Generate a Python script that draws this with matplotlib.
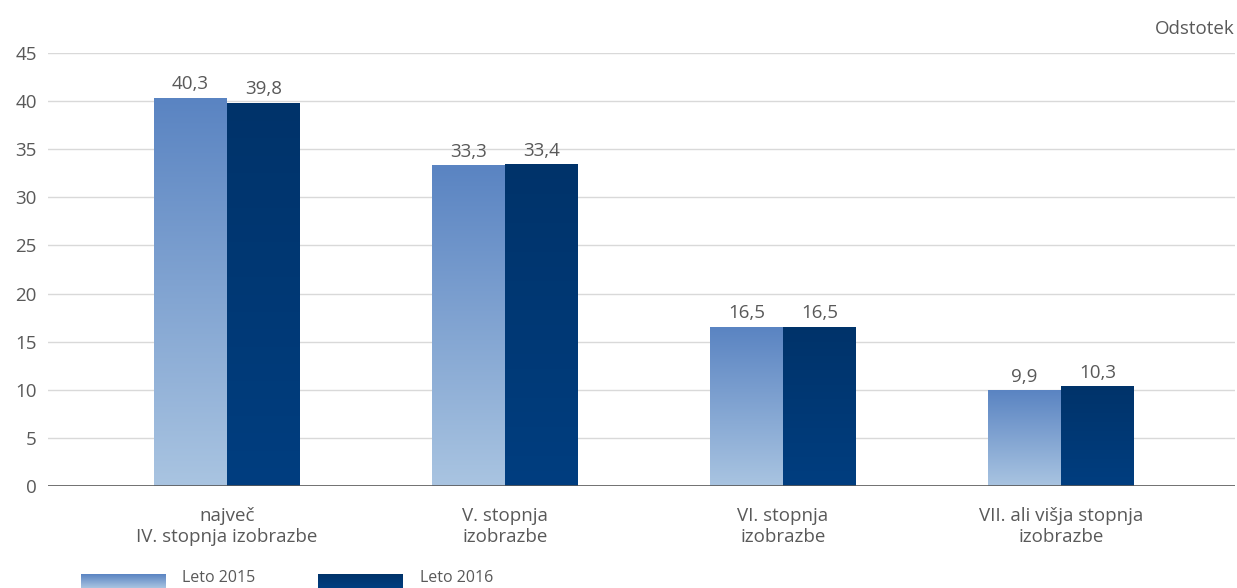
import matplotlib
matplotlib.use("Agg")

import numpy as np
import matplotlib.pyplot as plt
from matplotlib.colors import LinearSegmentedColormap

# -----------------------------
# Data
# -----------------------------
categories = ["največ\nIV. stopnja izobrazbe", "V. stopnja\nizobrazbe",
              "VI. stopnja\nizobrazbe", "VII. ali višja stopnja\nizobrazbe"]
leto_2015 = [40.3, 33.3, 16.5, 9.9]
leto_2016 = [39.8, 33.4, 16.5, 10.3]
series_names = ["Leto 2015", "Leto 2016"]

plt.rcParams["font.family"] = ["Open Sans", "DejaVu Sans"]
TXT = "#595959"
FS = 13.5

light_cmap = LinearSegmentedColormap.from_list("light", ["#a9c4e1", "#5a84c2"])
dark_cmap = LinearSegmentedColormap.from_list("dark", ["#003e80", "#00336a"])
grad = np.linspace(0, 1, 256).reshape(-1, 1)

fig = plt.figure(figsize=(12.37, 5.88), dpi=100)
ax = fig.add_axes([48 / 1237, 1 - 486 / 588, (1235 - 48) / 1237, 433 / 588])

x = np.arange(len(categories))
w = 0.2626

# gridlines
for yv in range(5, 50, 5):
    ax.axhline(yv, color="#d9d9d9", lw=1, zorder=0)
ax.axhline(0, color="#595959", lw=1.2, zorder=3)

# gradient bars
for vals, cmap, off in [(leto_2015, light_cmap, -w / 2), (leto_2016, dark_cmap, w / 2)]:
    for xi, v in zip(x, vals):
        x0 = xi + off - w / 2
        ax.imshow(grad, cmap=cmap, origin="lower", aspect="auto",
                  extent=(x0, x0 + w, 0, v), zorder=2, interpolation="bilinear")
        ax.text(xi + off, v + 0.5, f"{v:.1f}".replace(".", ","), ha="center",
                va="bottom", fontsize=FS, color=TXT)

ax.set_xlim(-0.644, 3.626)
ax.set_ylim(0, 45)
ax.set_aspect("auto")

for s in ax.spines.values():
    s.set_visible(False)
ax.set_yticks(range(0, 50, 5))
ax.tick_params(axis="y", length=0, labelsize=FS, labelcolor=TXT, pad=8)
ax.set_xticks(x)
ax.set_xticklabels(categories, fontsize=FS, color=TXT, linespacing=1.25)
ax.tick_params(axis="x", length=0, pad=15)

fig.text(1235 / 1237, 1 - 29 / 588, "Odstotek", ha="right", va="center",
         fontsize=FS, color=TXT)

# legend
for (px0, px1, tx, cmap, name) in [(81, 165, 182, light_cmap, series_names[0]),
                                   (318, 403, 420, dark_cmap, series_names[1])]:
    lax = fig.add_axes([px0 / 1237, 0, (px1 - px0) / 1237, 14 / 588])
    lax.imshow(grad, cmap=cmap, origin="lower", aspect="auto",
               extent=(0, 1, 0, 1))
    lax.set_axis_off()
    fig.text(tx / 1237, 1 - 578 / 588, name, ha="left", va="center",
             fontsize=11.5, color=TXT)

fig.savefig("out.png", dpi=100)
